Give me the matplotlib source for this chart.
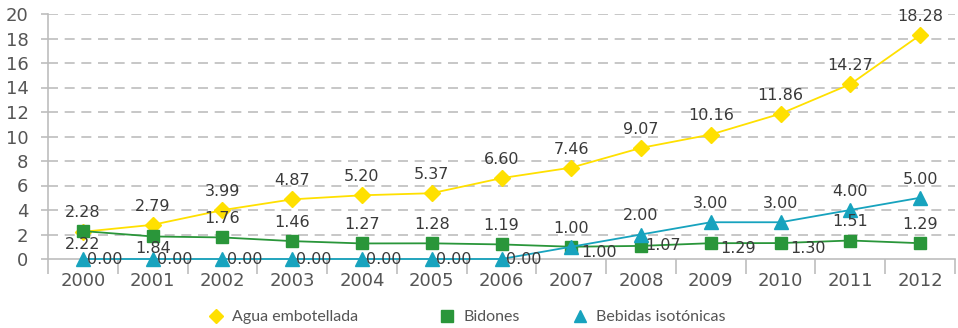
import matplotlib
matplotlib.use("Agg")
import matplotlib.pyplot as plt
from matplotlib.lines import Line2D
import numpy as np

years = ["2000", "2001", "2002", "2003", "2004", "2005", "2006",
         "2007", "2008", "2009", "2010", "2011", "2012"]
agua = [2.22, 2.79, 3.99, 4.87, 5.20, 5.37, 6.60, 7.46, 9.07, 10.16, 11.86, 14.27, 18.28]
bidones = [2.28, 1.84, 1.76, 1.46, 1.27, 1.28, 1.19, 1.00, 1.07, 1.29, 1.30, 1.51, 1.29]
isotonicas = [0.00, 0.00, 0.00, 0.00, 0.00, 0.00, 0.00, 1.00, 2.00, 3.00, 3.00, 4.00, 5.00]
series_names = ["Agua embotellada", "Bidones", "Bebidas isotónicas"]
y_ticks = [0, 2, 4, 6, 8, 10, 12, 14, 16, 18, 20]

# label placement per point: a = above, b = below, r = right, rb = right and slightly below
agua_pos = ["b"] + ["a"] * 12
bidones_pos = ["a", "b", "a", "a", "a", "a", "a", "rb", "r", "rb", "rb", "a", "a"]
iso_pos = ["r"] * 7 + ["a"] * 6

YELLOW = "#FFE000"
GREEN = "#2A963A"
TEAL = "#17A3BE"
GRID = "#BDBDBD"
TEXT = "#3A3A3A"

plt.rcParams["font.family"] = ["DejaVu Sans"]

fig = plt.figure(figsize=(9.58, 3.28), dpi=100)
ax = fig.add_axes([48 / 958, 69 / 328, 907 / 958, 245 / 328])

x = np.arange(len(years))

ax.plot(x, agua, color=YELLOW, lw=1.3, marker="D", ms=8, mec=YELLOW, mfc=YELLOW,
        zorder=3, clip_on=False)
ax.plot(x, bidones, color=GREEN, lw=1.3, marker="s", ms=9, mec=GREEN, mfc=GREEN,
        zorder=4, clip_on=False)
ax.plot(x, isotonicas, color=TEAL, lw=1.3, marker="^", ms=10, mec=TEAL, mfc=TEAL,
        zorder=5, clip_on=False)

offsets = {"a": ((0, 8), "center", "bottom"),
           "b": ((0, -3.5), "center", "top"),
           "r": ((3, 0), "left", "center"),
           "rb": ((7, -4), "left", "center")}


def label(values, positions):
    for xi, v, p in zip(x, values, positions):
        off, ha, va = offsets[p]
        ax.annotate(f"{v:.2f}", (xi, v), xytext=off, textcoords="offset points",
                    ha=ha, va=va, fontsize=11.5, color=TEXT, zorder=6)


label(agua, agua_pos)
label(bidones, bidones_pos)
label(isotonicas, iso_pos)

ax.set_xlim(-0.5, len(years) - 0.5)
ax.set_ylim(0, 20)
ax.set_yticks(y_ticks)
ax.set_yticklabels([str(t) for t in y_ticks])
ax.set_xticks(x)
ax.set_xticklabels(years)
ax.set_xticks(np.arange(-0.5, len(years), 1), minor=True)

for t in y_ticks[1:]:
    ax.axhline(t, color=GRID, lw=1.2, ls=(0, (6, 4)), zorder=1)

for s in ["top", "right"]:
    ax.spines[s].set_visible(False)
ax.spines["left"].set_color(GRID)
ax.spines["bottom"].set_color(GRID)
ax.spines["left"].set_linewidth(1.2)
ax.spines["bottom"].set_linewidth(1.2)

ax.tick_params(axis="x", which="major", length=0, pad=9, labelsize=13, labelcolor="#555555")
ax.tick_params(axis="x", which="minor", length=11, width=1.2, color=GRID)
ax.tick_params(axis="y", length=5, width=1.2, color=GRID, pad=9, labelsize=13,
               labelcolor="#555555")

legend_specs = [
    (series_names[0], "D", YELLOW, 7, 210 / 958),
    (series_names[1], "s", GREEN, 8, 441 / 958),
    (series_names[2], "^", TEAL, 9, 574 / 958),
]
for name, mk, col, ms, xa in legend_specs:
    h = Line2D([], [], ls="none", marker=mk, ms=ms, mfc=col, mec=col)
    fig.legend([h], [name], loc="center left", bbox_to_anchor=(xa, 11 / 328),
               frameon=False, handlelength=0.8, handletextpad=0.6, borderpad=0,
               borderaxespad=0, prop={"family": "Lato", "size": 11.5},
               labelcolor="#555555")

fig.savefig("out.png", dpi=100)
